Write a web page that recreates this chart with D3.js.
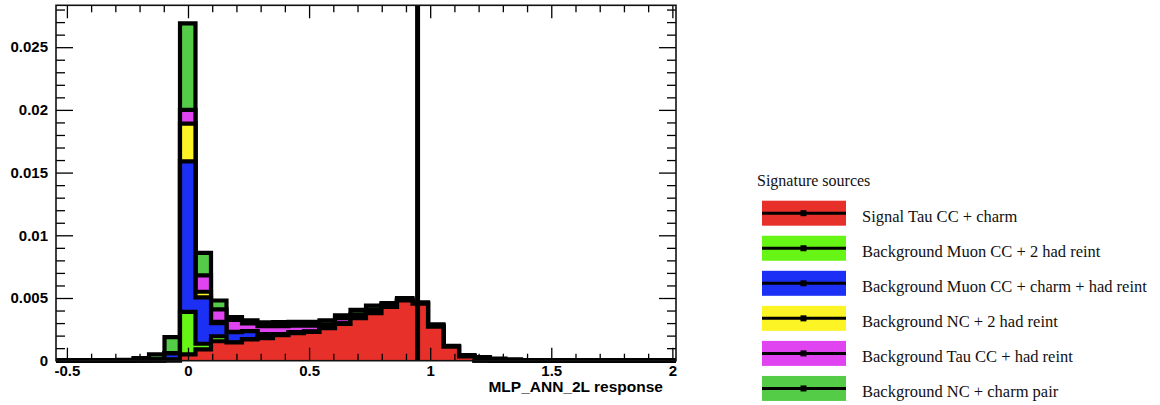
<!DOCTYPE html>
<html><head><meta charset="utf-8">
<script src="https://cdn.jsdelivr.net/npm/d3@7"></script>
<style>body{margin:0;background:#fff} svg{display:block}</style>
</head><body>
<svg id="c" width="1160" height="405"></svg>
<script>
// ---- data ----
const binStart = -0.545, binWidth = 0.064, nBins = 40;
const signalTauCharm   = [0,0,0,0,0,0,0,0, 0.0005,0.0009,0.00155,0.00145,0.0017,0.0018,0.00203,0.0022,0.0023,0.0026,0.00293,0.0034,0.0038,0.0043,0.0048,0.00455,0.00272,0.00112,0.00035,0.00003, 0,0,0,0,0,0,0,0,0,0,0,0];
const bgMuonCC2Had     = [0,0,0,0,0,0,0, 0.0001, 0.0034,0.00045,0.0004,0.00002,0.00002,0.00002,0.00002,0.00001,0.00001,0.00001,0.00001,0.00001,0.00001,0.00001, 0,0,0,0,0,0,0,0,0,0,0,0,0,0,0,0,0,0];
const bgMuonCCCharmHad = [0,0,0,0, 0.00002,0.00005,0.00008,0.00048, 0.012,0.0037,0.00105,0.0008,0.00063,0.00028,0.00005,0.00004,0,0.00001,0.00001,0.00001,0.00001,0.00001, 0,0,0,0,0,0,0,0,0,0,0,0,0,0,0,0,0,0];
const bgNC2Had         = [0,0,0,0,0,0,0,0, 0.003,0.00045,0.0001,0.00003,0.00002,0.00003,0.00002,0.00004,0.00001,0.00001,0.00002,0.00001,0.00001,0.00001, 0,0,0,0,0,0,0,0,0,0,0,0,0,0,0,0,0,0];
const bgTauCCHad       = [0,0,0,0,0, 0.00002,0.00002,0, 0.0011,0.0013,0.001,0.00095,0.0006,0.00062,0.00063,0.0005,0.00048,0.00027,0.00043,0.00027,0.00027,0.00017,0.00009,0.00005,0.0001,0,0,0.0001, 0,0,0,0,0,0,0,0,0,0,0,0];
const bgNCCharmPair    = [0,0,0, 0.00002,0.00005,0.00013,0.0004,0.0013, 0.0069,0.0018,0.0007,0.00023,0.00025,0.0003,0.00033,0.0003,0.0003,0.00032,0.00022,0.00035,0.0003,0.0001,0.0001,0.00005,0.00008,0.00006,0.0001,0.00015,0.00016,0.0001,0.00003, 0,0,0,0,0,0,0,0,0];
const seriesNames = ["Signal Tau CC + charm","Background Muon CC + 2 had reint","Background Muon CC + charm + had reint","Background NC + 2 had reint","Background Tau CC + had reint","Background NC + charm pair"];
const seriesColors = ["#e8302a","#66f514","#1c30f5","#fcf425","#e044f0","#55cc47"];
const seriesData = [signalTauCharm,bgMuonCC2Had,bgMuonCCCharmHad,bgNC2Had,bgTauCCHad,bgNCCharmPair];
const xMajorTicks = [-0.5,0,0.5,1,1.5,2];
const xTickLabels = ["-0.5","0","0.5","1","1.5","2"];
const yMajorTicks = [0,0.005,0.01,0.015,0.02,0.025];
const yTickLabels = ["0","0.005","0.01","0.015","0.02","0.025"];
const cutValue = 0.948;
const xTitle = "MLP_ANN_2L response";
const legendTitle = "Signature sources";

// ---- layout ----
const svg = d3.select("#c");
const X0 = 56, X1 = 676, Y0 = 360.7, Y1 = 5.3;
const x = d3.scaleLinear().domain([binStart, binStart + nBins*binWidth]).range([X0, X1]);
const y = d3.scaleLinear().domain([0, 0.02834]).range([Y0, Y1]);

// cumulative stacks
const cum = [];
seriesData.forEach((s,i)=>{ cum.push(s.map((v,k)=> v + (i>0 ? cum[i-1][k] : 0))); });

function stepPts(vals){
  const pts = [[x(binStart), y(0)]];
  vals.forEach((v,k)=>{
    const lo = binStart + k*binWidth, hi = lo + binWidth;
    pts.push([x(lo), y(v)], [x(hi), y(v)]);
  });
  pts.push([x(binStart + nBins*binWidth), y(0)]);
  return pts;
}
const line = d3.line();
const gH = svg.append("g");
for (let i = cum.length-1; i >= 0; i--) {
  const pts = stepPts(cum[i]);
  gH.append("path").attr("d", line(pts) + "Z").attr("fill", seriesColors[i]).attr("stroke","none");
  gH.append("path").attr("d", line(pts)).attr("fill","none").attr("stroke","#000")
    .attr("stroke-width",4.2).attr("stroke-linejoin","miter");
}

// axes
const font = "'Liberation Sans', Arial, Helvetica, sans-serif";
const xMinor = d3.range(-5, 21).map(d=>d/10).filter(d=>xMajorTicks.indexOf(d)<0);
const yMinor = d3.range(0, 29).map(d=>d/1000).filter(d=>Math.abs((d*1000)%5)>1e-9);

function styleAxis(g){
  g.select(".domain").remove();
  g.selectAll(".tick line").attr("stroke","#000").attr("stroke-width",1.3);
  g.selectAll("text").attr("font-family",font).attr("font-weight","bold").attr("font-size",15).attr("fill","#000");
}
svg.append("g").attr("transform",`translate(0,${Y0})`)
  .call(d3.axisBottom(x).tickValues(xMajorTicks).tickSize(-13).tickPadding(5).tickFormat((d,i)=>xTickLabels[i])).call(styleAxis);
svg.append("g").attr("transform",`translate(0,${Y0})`)
  .call(d3.axisBottom(x).tickValues(xMinor).tickSize(-7).tickFormat("")).call(styleAxis);
svg.append("g").attr("transform",`translate(0,${Y1})`)
  .call(d3.axisTop(x).tickValues(xMajorTicks).tickSize(-13).tickFormat("")).call(styleAxis);
svg.append("g").attr("transform",`translate(0,${Y1})`)
  .call(d3.axisTop(x).tickValues(xMinor).tickSize(-7).tickFormat("")).call(styleAxis);
svg.append("g").attr("transform",`translate(${X0},0)`)
  .call(d3.axisLeft(y).tickValues(yMajorTicks).tickSize(-17).tickPadding(8).tickFormat((d,i)=>yTickLabels[i])).call(styleAxis);
svg.append("g").attr("transform",`translate(${X0},0)`)
  .call(d3.axisLeft(y).tickValues(yMinor).tickSize(-9).tickFormat("")).call(styleAxis);
svg.append("g").attr("transform",`translate(${X1},0)`)
  .call(d3.axisRight(y).tickValues(yMajorTicks).tickSize(-17).tickFormat("")).call(styleAxis);
svg.append("g").attr("transform",`translate(${X1},0)`)
  .call(d3.axisRight(y).tickValues(yMinor).tickSize(-9).tickFormat("")).call(styleAxis);

// cut line
svg.append("line").attr("x1",x(cutValue)).attr("x2",x(cutValue)).attr("y1",Y1).attr("y2",Y0)
  .attr("stroke","#000").attr("stroke-width",5);

// frame
svg.append("rect").attr("x",X0).attr("y",Y1).attr("width",X1-X0).attr("height",Y0-Y1)
  .attr("fill","none").attr("stroke","#111").attr("stroke-width",1.6);

// x title
svg.append("text").attr("x",663).attr("y",392).attr("text-anchor","end")
  .attr("font-family",font).attr("font-weight","bold").attr("font-size",15.5).text(xTitle);

// legend
const serif = "'Liberation Serif', 'Times New Roman', Times, serif";
const lg = svg.append("g");
lg.append("text").attr("x",757).attr("y",186).attr("font-family",serif).attr("font-size",16).attr("fill","#111").text(legendTitle);
seriesNames.forEach((n,i)=>{
  const top = 200.7 + i*35.05;
  lg.append("rect").attr("x",762).attr("y",top).attr("width",84).attr("height",25).attr("fill",seriesColors[i]);
  lg.append("line").attr("x1",762).attr("x2",846).attr("y1",top+12.5).attr("y2",top+12.5).attr("stroke","#000").attr("stroke-width",3);
  lg.append("rect").attr("x",800.5).attr("y",top+9.5).attr("width",6).attr("height",6).attr("fill","#000");
  lg.append("text").attr("x",862).attr("y",top+21).attr("font-family",serif).attr("font-size",16.5).attr("fill","#111").text(n);
});
</script>
</body></html>
